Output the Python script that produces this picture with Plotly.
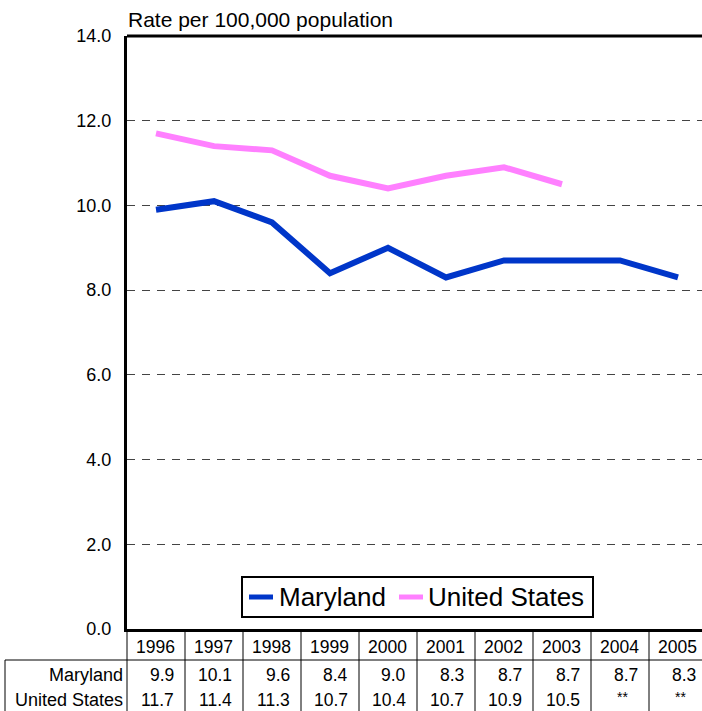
import plotly.graph_objects as go

# Data
years = [1996, 1997, 1998, 1999, 2000, 2001, 2002, 2003, 2004, 2005]
maryland = [9.9, 10.1, 9.6, 8.4, 9.0, 8.3, 8.7, 8.7, 8.7, 8.3]
united_states = [11.7, 11.4, 11.3, 10.7, 10.4, 10.7, 10.9, 10.5, None, None]
series_names = ["Maryland", "United States"]
series_colors = ["#0036C9", "#FF80FF"]
y_ticks = [0, 2, 4, 6, 8, 10, 12, 14]

W, H = 702, 711
ML, MR, MT, MB = 127, 0, 36, 82
plot_w = W - ML - MR
plot_h = H - MT - MB

# each year gets a 58px column; the last one runs off the right edge
col_px = 58
x0 = years[0] - 0.5
x1 = x0 + plot_w / col_px

FONT = "Liberation Sans, Arial, sans-serif"
TABLE_SIZE = 17.5


def px_x(v):
    return (v - x0) / (x1 - x0)


def py(pix):
    # pixel row (from top of page) -> paper y
    return (H - MB - pix) / plot_h


def pxp(pix):
    # pixel column -> paper x
    return (pix - ML) / plot_w


fig = go.Figure()
for name, vals, color in zip(series_names, [maryland, united_states], series_colors):
    fig.add_trace(go.Scatter(x=years, y=vals, mode="lines", name=name,
                             line=dict(color=color, width=6), showlegend=False))

shapes = []
# top border of the plot area
shapes.append(dict(type="line", xref="paper", yref="paper", x0=0, x1=1.01, y0=1, y1=1,
                   line=dict(color="black", width=3)))

# data table grid below the chart
row_top = py(660)
bottom = py(H + 2)
shapes.append(dict(type="line", xref="paper", yref="paper", x0=pxp(5), x1=1.01,
                   y0=row_top, y1=row_top, line=dict(color="black", width=1)))
shapes.append(dict(type="line", xref="paper", yref="paper", x0=pxp(5), x1=pxp(5),
                   y0=row_top, y1=bottom, line=dict(color="black", width=1)))
for i in range(len(years)):
    xb = px_x(years[i] - 0.5)
    shapes.append(dict(type="line", xref="paper", yref="paper", x0=xb, x1=xb,
                       y0=0, y1=bottom, line=dict(color="black", width=1)))

annotations = []
annotations.append(dict(text="Rate per 100,000 population", xref="paper", yref="paper",
                        x=pxp(126), y=py(19), xanchor="left", yanchor="middle",
                        showarrow=False, font=dict(size=21, color="black", family=FONT)))

# legend box inside the plot, near the bottom
shapes.append(dict(type="rect", xref="paper", yref="paper",
                   x0=pxp(242), x1=pxp(593), y0=py(617), y1=py(577),
                   line=dict(color="black", width=2), fillcolor="white", layer="above"))
legend_y = py(597)
for name, color, sx, tx in zip(series_names, series_colors, [249, 399], [277, 426]):
    shapes.append(dict(type="line", xref="paper", yref="paper", x0=pxp(sx), x1=pxp(sx + 24),
                       y0=legend_y, y1=legend_y, line=dict(color=color, width=5),
                       layer="above"))
    annotations.append(dict(text=name, xref="paper", yref="paper", x=pxp(tx), y=legend_y,
                            xanchor="left", yanchor="middle", showarrow=False,
                            font=dict(size=26, color="black", family=FONT)))

y_year, y_md, y_us = py(647), py(675), py(700)
for i, yr in enumerate(years):
    annotations.append(dict(text=str(yr), xref="paper", yref="paper", x=px_x(yr), y=y_year,
                            xanchor="center", yanchor="middle", showarrow=False,
                            font=dict(size=TABLE_SIZE, color="black", family=FONT)))
    right = pxp(ML + col_px * (i + 1) - 9)
    annotations.append(dict(text=f"{maryland[i]:.1f}", xref="paper", yref="paper",
                            x=right, y=y_md, xanchor="right", yanchor="middle",
                            showarrow=False,
                            font=dict(size=TABLE_SIZE, color="black", family=FONT)))
    if united_states[i] is None:
        annotations.append(dict(text="**", xref="paper", yref="paper", x=px_x(yr) + 0.004,
                                y=py(697), xanchor="center", yanchor="middle",
                                showarrow=False, font=dict(size=14, color="black", family=FONT)))
    else:
        annotations.append(dict(text=f"{united_states[i]:.1f}", xref="paper", yref="paper",
                                x=right, y=y_us, xanchor="right", yanchor="middle",
                                showarrow=False,
                                font=dict(size=TABLE_SIZE, color="black", family=FONT)))

for name, yy in zip(series_names, [y_md, y_us]):
    annotations.append(dict(text=name, xref="paper", yref="paper", x=pxp(125), y=yy,
                            xanchor="right", yanchor="middle", showarrow=False,
                            font=dict(size=18, color="black", family=FONT)))

fig.update_layout(
    width=W, height=H,
    margin=dict(l=ML, r=MR, t=MT, b=MB, pad=0),
    paper_bgcolor="white", plot_bgcolor="white",
    font=dict(family=FONT, color="black"),
    showlegend=False,
    xaxis=dict(range=[x0, x1], showticklabels=False, showgrid=False, zeroline=False,
               showline=True, linecolor="black", linewidth=3, ticks=""),
    yaxis=dict(range=[0, 14], tickvals=y_ticks, ticktext=[f"{v:.1f}" for v in y_ticks],
               showgrid=True, gridcolor="#444444", gridwidth=1, griddash="8px,7px",
               zeroline=False, showline=True, linecolor="black", linewidth=3,
               ticks="outside", ticklen=9, tickcolor="rgba(0,0,0,0)",
               tickfont=dict(size=18, color="black", family=FONT)),
    shapes=shapes,
    annotations=annotations,
)

fig.write_html("out.html")
